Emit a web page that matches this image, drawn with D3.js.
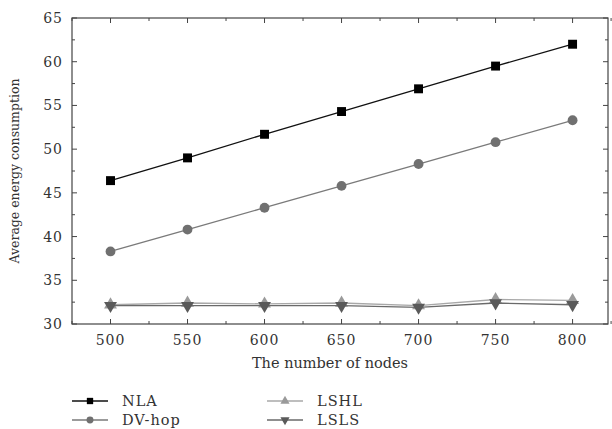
<!DOCTYPE html>
<html>
<head>
<meta charset="utf-8">
<script src="https://cdn.jsdelivr.net/npm/d3@7"></script>
<style>
  body { margin: 0; background: #fff; }
  text { font-family: "DejaVu Serif", serif; fill: #333; }
</style>
</head>
<body>
<div id="chart"></div>
<script>
//data
var nodes = [500, 550, 600, 650, 700, 750, 800];
var nla = [46.4, 49.0, 51.7, 54.3, 56.9, 59.5, 62.0];
var dvhop = [38.3, 40.8, 43.3, 45.8, 48.3, 50.8, 53.3];
var lshl = [32.2, 32.4, 32.3, 32.4, 32.1, 32.8, 32.7];
var lsls = [32.1, 32.1, 32.1, 32.1, 31.9, 32.4, 32.2];
var yTicks = [30, 35, 40, 45, 50, 55, 60, 65];

var series = [
  { name: 'NLA', values: nla, color: '#000', line: '#111', shape: 'square' },
  { name: 'DV-hop', values: dvhop, color: '#707070', line: '#7a7a7a', shape: 'circle' },
  { name: 'LSHL', values: lshl, color: '#9a9a9a', line: '#a8a8a8', shape: 'triUp' },
  { name: 'LSLS', values: lsls, color: '#5a5a5a', line: '#6a6a6a', shape: 'triDown' }
];

//dims
var width = 612, height = 429;
var plotLeft = 72, plotRight = 608, plotTop = 18, plotBottom = 324;

var x = d3.scaleLinear().domain([475, 823]).range([plotLeft, plotRight]);
var y = d3.scaleLinear().domain([30, 65]).range([plotBottom, plotTop]);

var svg = d3.select('#chart').append('svg')
  .attr('width', width)
  .attr('height', height);

var frameColor = '#444';

// minor ticks
var xMinor = d3.range(475, 826, 25).filter(function(v) { return v % 50 !== 0; });
var yMinor = d3.range(32.5, 65, 5);

function tickLines(vals, len, isX) {
  vals.forEach(function(v) {
    if (isX) {
      svg.append('line').attr('x1', x(v)).attr('x2', x(v))
        .attr('y1', plotBottom).attr('y2', plotBottom - len).attr('stroke', frameColor);
      svg.append('line').attr('x1', x(v)).attr('x2', x(v))
        .attr('y1', plotTop).attr('y2', plotTop + len).attr('stroke', frameColor);
    } else {
      svg.append('line').attr('x1', plotLeft).attr('x2', plotLeft + len)
        .attr('y1', y(v)).attr('y2', y(v)).attr('stroke', frameColor);
      svg.append('line').attr('x1', plotRight).attr('x2', plotRight - len)
        .attr('y1', y(v)).attr('y2', y(v)).attr('stroke', frameColor);
    }
  });
}
tickLines(nodes, 5, true);
tickLines(xMinor, 3, true);
tickLines(yTicks, 5, false);
tickLines(yMinor, 3, false);

// frame
svg.append('rect')
  .attr('x', plotLeft).attr('y', plotTop)
  .attr('width', plotRight - plotLeft).attr('height', plotBottom - plotTop)
  .attr('fill', 'none').attr('stroke', frameColor).attr('stroke-width', 1.2);

// tick labels
svg.selectAll('.xlab').data(nodes).enter().append('text')
  .attr('x', function(d) { return x(d); })
  .attr('y', plotBottom + 21)
  .attr('text-anchor', 'middle')
  .attr('font-size', 14)
  .attr('letter-spacing', 1)
  .text(function(d) { return d; });

svg.selectAll('.ylab').data(yTicks).enter().append('text')
  .attr('x', plotLeft - 9)
  .attr('y', function(d) { return y(d) + 5; })
  .attr('text-anchor', 'end')
  .attr('font-size', 14)
  .attr('letter-spacing', 1)
  .text(function(d) { return d; });

// axis titles
svg.append('text')
  .attr('x', (plotLeft + plotRight) / 2 - 10)
  .attr('y', 368)
  .attr('text-anchor', 'middle')
  .attr('font-size', 14.5)
  .text('The number of nodes');

svg.append('text')
  .attr('transform', 'translate(19,171) rotate(-90)')
  .attr('text-anchor', 'middle')
  .attr('font-size', 12.5)
  .text('Average energy consumption');

// markers
function marker(g, shape, cx, cy, color, size) {
  var types = { square: d3.symbolSquare, circle: d3.symbolCircle, triUp: d3.symbolTriangle, triDown: d3.symbolTriangle };
  var area = shape === 'square' ? size : shape === 'circle' ? size * 0.95 : size * 0.9;
  var d = d3.symbol().type(types[shape]).size(area)();
  g.append('path')
    .attr('fill', color)
    .attr('d', d)
    .attr('transform', 'translate(' + cx + ',' + cy + ')' + (shape === 'triDown' ? ' rotate(180)' : ''));
}

var line = d3.line()
  .x(function(d, i) { return x(nodes[i]); })
  .y(function(d) { return y(d); });

series.forEach(function(s) {
  var g = svg.append('g');
  g.append('path')
    .attr('d', line(s.values))
    .attr('fill', 'none')
    .attr('stroke', s.line)
    .attr('stroke-width', 1.3);
  s.values.forEach(function(v, i) {
    marker(g, s.shape, x(nodes[i]), y(v), s.color, 80);
  });
});

// legend
var legendPos = [[72, 401], [72, 420], [267, 401], [267, 420]];
series.forEach(function(s, i) {
  var lx = legendPos[i][0], ly = legendPos[i][1];
  var g = svg.append('g');
  g.append('line').attr('x1', lx).attr('x2', lx + 36)
    .attr('y1', ly).attr('y2', ly)
    .attr('stroke', s.line).attr('stroke-width', 1.3);
  marker(g, s.shape, lx + 18, ly, s.color, 40);
  g.append('text')
    .attr('x', lx + 50)
    .attr('y', ly + 5)
    .attr('font-size', 14.5)
    .attr('letter-spacing', 1)
    .text(s.name);
});
</script>
</body>
</html>
